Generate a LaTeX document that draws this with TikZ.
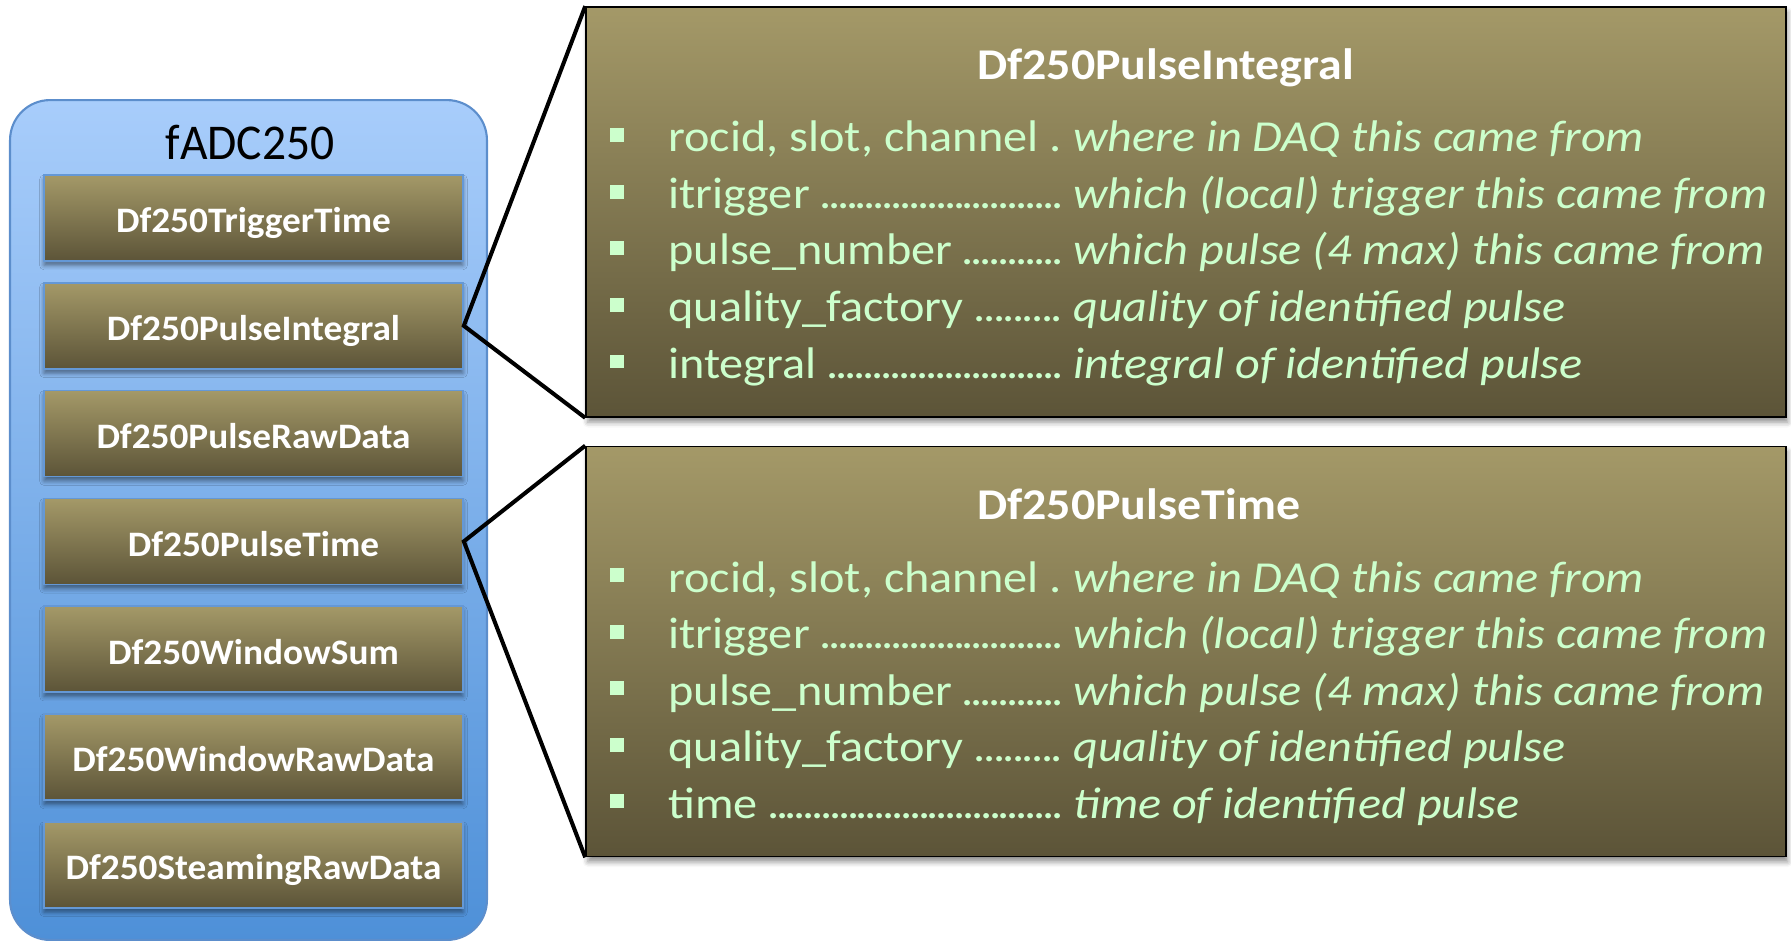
\documentclass[tikz,border=0pt]{standalone}
\usepackage{fontspec}
\setmainfont{Carlito}
\newfontfamily\panelfont{Carlito}[FakeStretch=1.09]
\newfontfamily\bankfont{Carlito}[FakeStretch=1.04]
\newfontfamily\cratefont{Carlito}[FakeStretch=0.95]
\usetikzlibrary{positioning, shadows.blur}

\definecolor{olivetop}{RGB}{164,153,104}
\definecolor{olivebot}{RGB}{92,84,56}
\definecolor{mint}{RGB}{204,255,204}
\definecolor{skytop}{RGB}{168,205,251}
\definecolor{skybot}{RGB}{78,144,216}
\definecolor{skyedge}{RGB}{92,142,204}
\definecolor{bankedge}{RGB}{100,152,214}

% tight dot leader, as between a field name and its meaning
\newcommand\dotlead{\xleaders\hbox to 0.2em{\hss.\hss}\hfill}

\begin{document}
\begin{tikzpicture}[x=0.02cm, y=-0.02cm,
    crate/.style={draw=skyedge, line width=1.2pt, rounded corners=0.8cm,
        top color=skytop, bottom color=skybot,
        minimum width=9.54cm, minimum height=16.8cm},
    bank/.style={draw=bankedge, line width=1pt, top color=olivetop, bottom color=olivebot,
        minimum width=8.38cm, minimum height=1.72cm, inner sep=0pt,
        text height=17pt, text depth=0pt,
        text=white, font=\fontsize{20.4}{24}\bankfont\bfseries,
        blur shadow={shadow xshift=0pt, shadow yshift=-2.5pt, shadow blur radius=2.5pt, shadow opacity=45}},
    panel/.style={draw=black, line width=1pt, top color=olivetop, bottom color=olivebot,
        minimum width=24cm, minimum height=8.2cm, inner sep=0pt,
        blur shadow={shadow xshift=1pt, shadow yshift=-3pt, shadow blur radius=3pt, shadow opacity=45}},
    heading/.style={anchor=base west, inner sep=0pt, text=white, font=\fontsize{25}{30}\panelfont\bfseries},
    field/.style={anchor=base west, inner sep=0pt, text=mint, font=\fontsize{25.2}{30}\panelfont},
    bullet/.style={fill=mint, minimum size=0.28cm, inner sep=0pt},
    link/.style={line width=2.3pt}]

    \useasboundingbox (0,0) rectangle (1791,942);

    % --- fADC250 module and its data objects ---
    \node[crate] (fadc) at (248.5,520) {};
    \node[anchor=base, inner sep=0pt, font=\fontsize{28.5}{34}\cratefont] (fadctitle) at (250,160) {fADC250};
    \foreach \obj [count=\i from 0] in {TriggerTime, PulseIntegral, PulseRawData, PulseTime,
                                        WindowSum, WindowRawData, SteamingRawData}
        \node[bank] (\obj) at (253.5,{218+107.8*\i}) {Df250\obj};

    % --- Detail panels ---
    \node[panel] (pi) at (1186,212) {};
    \node[panel] (pt) at (1186,651.5) {};

    % --- Zoom lines from the object to its panel ---
    \draw[link] (pi.north west) -- (PulseIntegral.east) -- (pi.south west);
    \draw[link] (pt.north west) -- (PulseTime.east) -- (pt.south west);

    % --- Df250PulseIntegral members ---
    \node[heading] (pihead) at (977,80) {Df250PulseIntegral};
    \foreach \key/\desc [count=\r from 0] in {{rocid, slot, channel .}/where in DAQ this came from,
            itrigger/which (local) trigger this came from,
            pulse\_number/which pulse (4 max) this came from,
            quality\_factory/quality of identified pulse,
            integral/integral of identified pulse}{
        \node[bullet] (pi-b\r) at (617,{135.5+56.5*\r}) {};
        \node[field] (pi-f\r) at (668,{152+56.5*\r}) {\makebox[7.88cm][l]{\key\ \dotlead}\ \textit{\desc}};
    }

    % --- Df250PulseTime members ---
    \node[heading] (pthead) at (977,519) {Df250PulseTime};
    \foreach \key/\desc [count=\r from 0] in {{rocid, slot, channel .}/where in DAQ this came from,
            itrigger/which (local) trigger this came from,
            pulse\_number/which pulse (4 max) this came from,
            quality\_factory/quality of identified pulse,
            time/time of identified pulse}{
        \node[bullet] (pt-b\r) at (617,{575+56.5*\r}) {};
        \node[field] (pt-f\r) at (668,{592+56.5*\r}) {\makebox[7.88cm][l]{\key\ \dotlead}\ \textit{\desc}};
    }
\end{tikzpicture}
\end{document}
